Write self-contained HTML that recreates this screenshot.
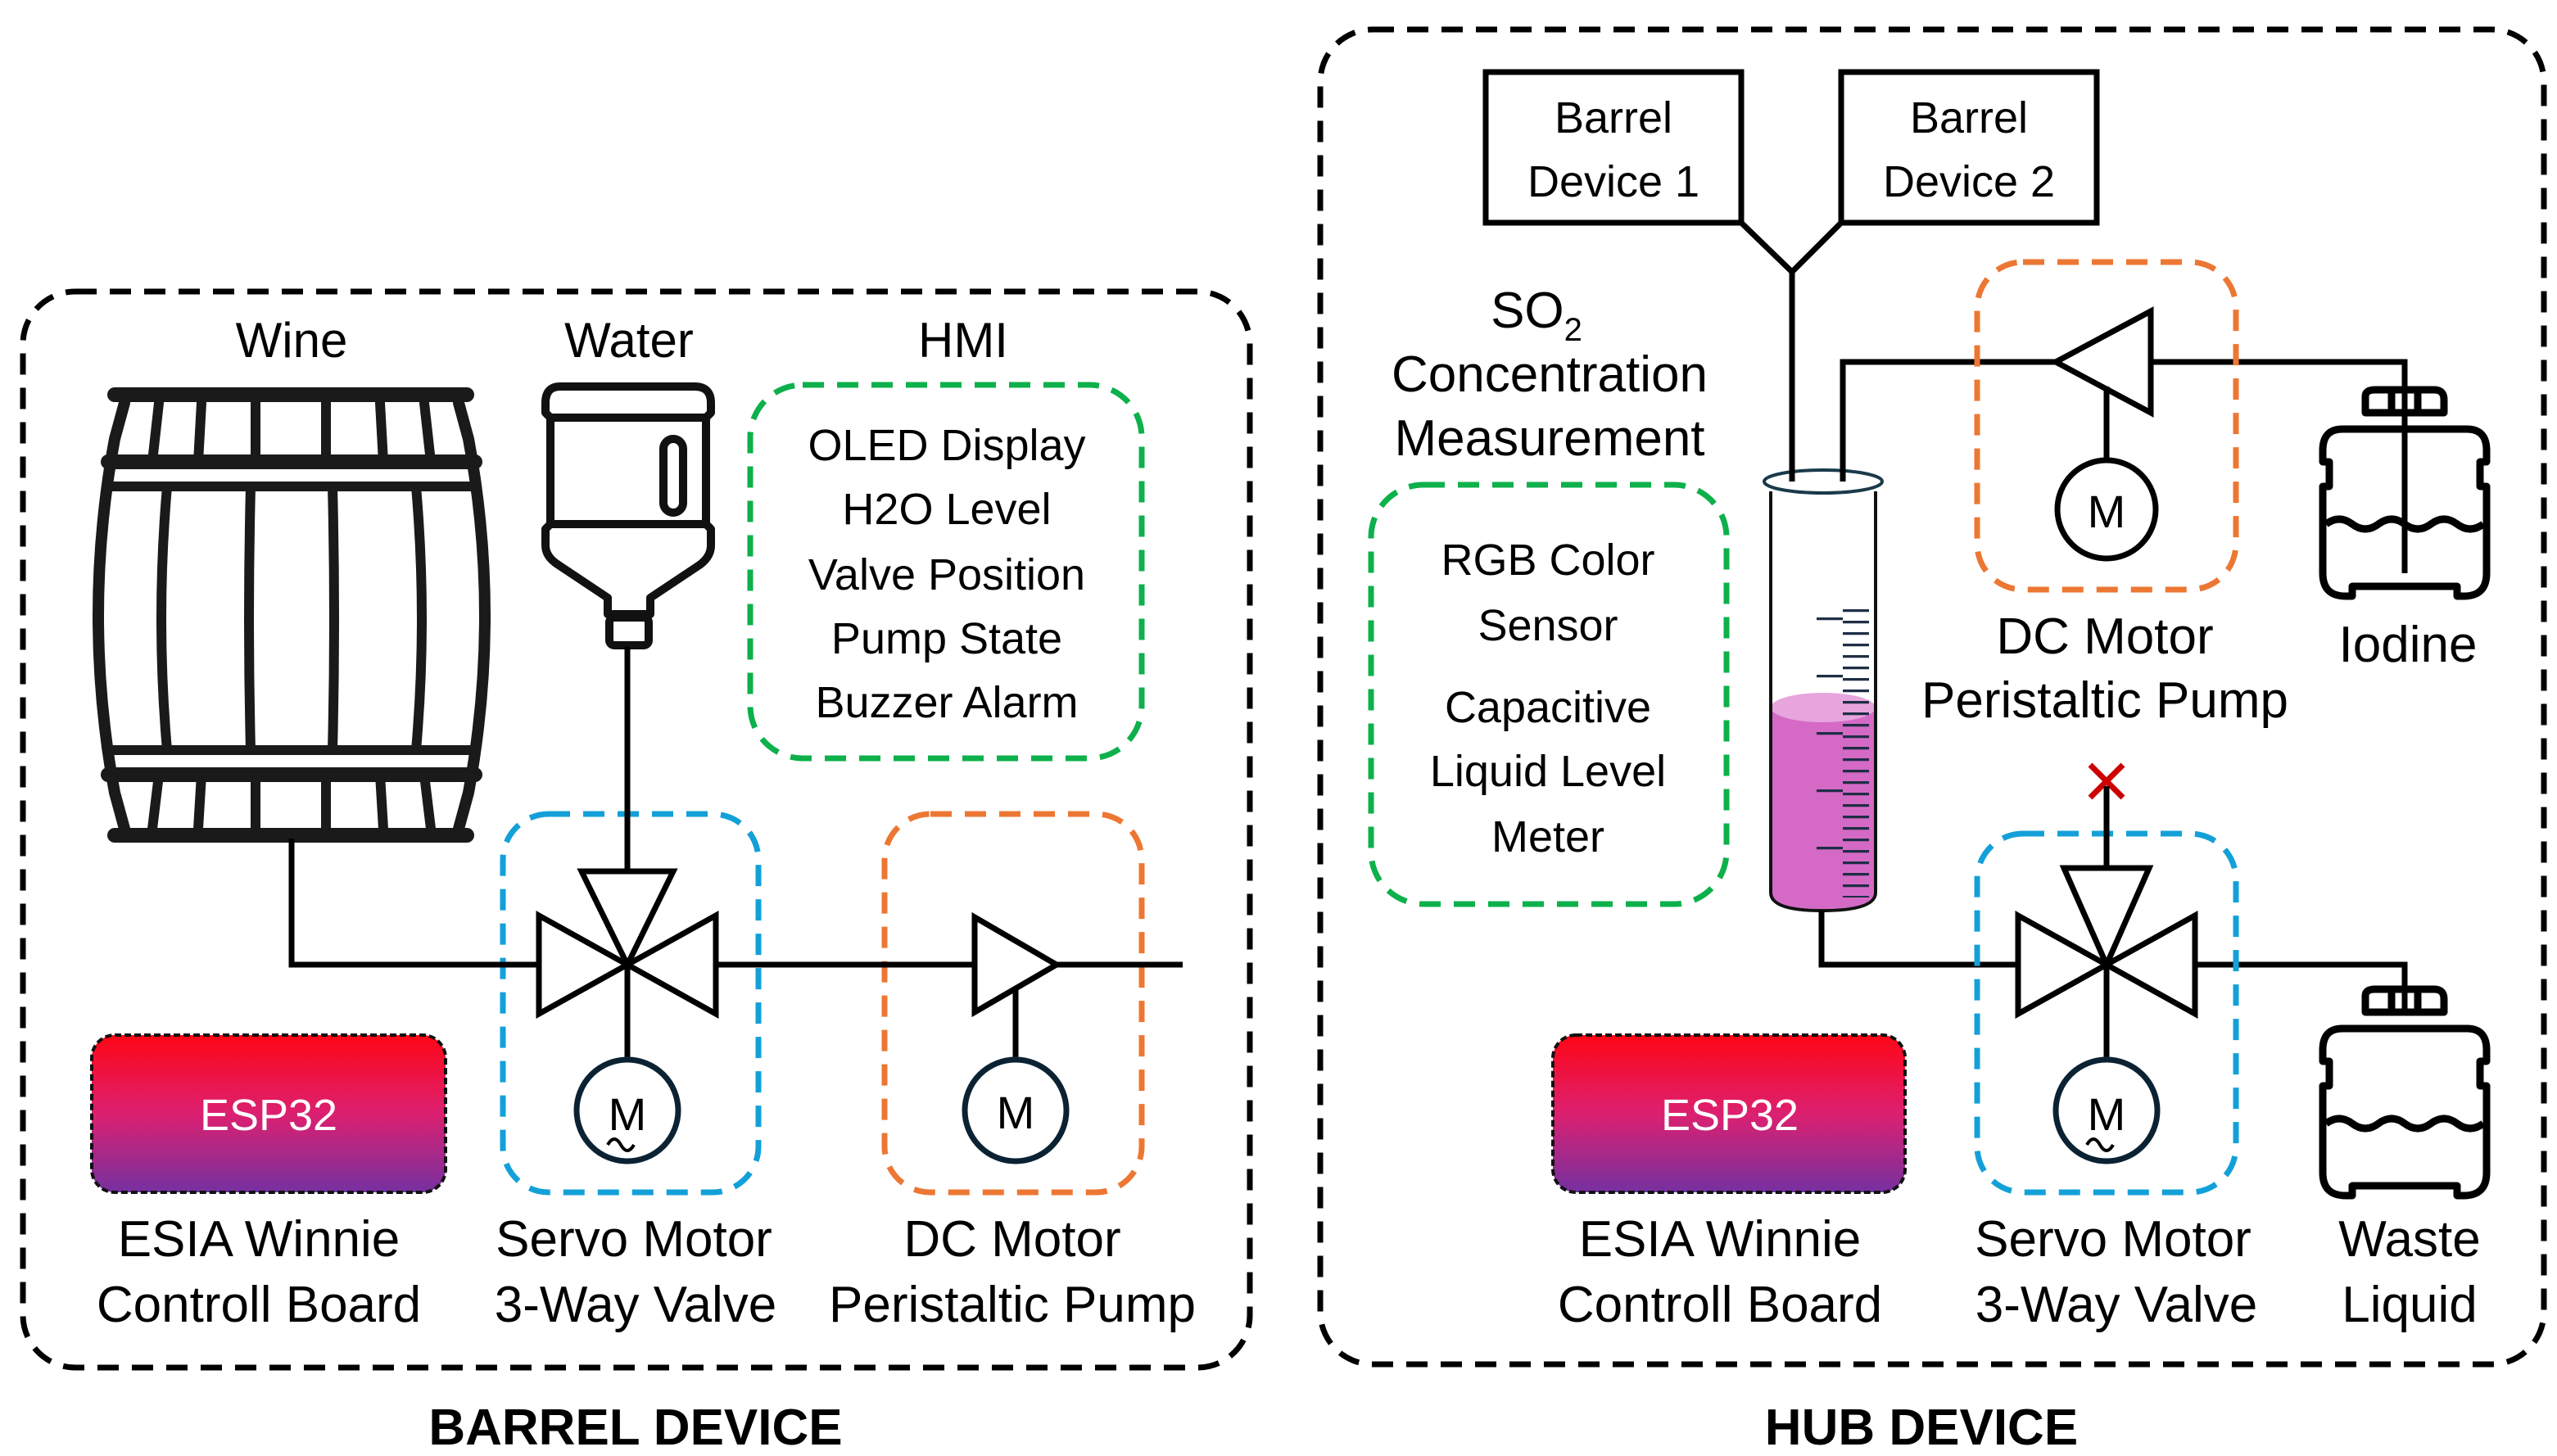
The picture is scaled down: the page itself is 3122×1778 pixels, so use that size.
<!DOCTYPE html>
<html><head><meta charset="utf-8"><style>
html,body{margin:0;padding:0;background:#fff;}
svg{display:block;}
text{font-family:"Liberation Sans",sans-serif;fill:#000;}
</style></head><body>
<svg width="3122" height="1778" viewBox="0 0 1561 889" xmlns="http://www.w3.org/2000/svg">
<defs>
<linearGradient id="g" x1="0" y1="0" x2="0" y2="1">
<stop offset="0" stop-color="#ff0616"/><stop offset="0.5" stop-color="#dc2070"/><stop offset="1" stop-color="#7530a0"/>
</linearGradient>
</defs>
<rect x="14" y="178" width="749" height="657" rx="32" fill="none" stroke="#000" stroke-width="3.5" stroke-dasharray="13 8"/>
<rect x="806" y="18" width="747" height="815" rx="32" fill="none" stroke="#000" stroke-width="3.5" stroke-dasharray="13 8"/>
<text x="388" y="882" font-size="31" font-weight="bold" text-anchor="middle">BARREL DEVICE</text>
<text x="1173" y="882" font-size="31" font-weight="bold" text-anchor="middle">HUB DEVICE</text>

<g font-size="30" text-anchor="middle">
<text x="178" y="218">Wine</text>
<text x="384" y="218">Water</text>
<text x="588" y="218">HMI</text>
</g>
<g stroke="#1a1a1a" fill="none" stroke-linecap="round">
<line x1="70" y1="241" x2="285" y2="241" stroke-width="9"/>
<line x1="70" y1="510" x2="285" y2="510" stroke-width="9"/>
<path d="M76 246 L70 268 Q50 376 70 484 L76 506" stroke-width="7"/>
<path d="M280 246 L286 268 Q306 376 286 484 L280 506" stroke-width="7"/>
<line x1="66" y1="282" x2="290" y2="282" stroke-width="9"/>
<line x1="66" y1="297" x2="290" y2="297" stroke-width="6"/>
<line x1="66" y1="458" x2="290" y2="458" stroke-width="6"/>
<line x1="66" y1="473" x2="290" y2="473" stroke-width="9"/>
<path d="M97 246 L93 282 M97 473 L93 506" stroke-width="6"/>
<path d="M259 246 L263 282 M259 473 L263 506" stroke-width="6"/>
<path d="M123 246 L121 282 M123 473 L121 506 M156 246 L156 282 M156 473 L156 506 M199 246 L199 282 M199 473 L199 506 M232 246 L234 282 M232 473 L234 506" stroke-width="6"/>
<path d="M102 297 Q95 378 102 458" stroke-width="6"/>
<path d="M153 297 Q151 378 153 458" stroke-width="6"/>
<path d="M203 297 Q205 378 203 458" stroke-width="6"/>
<path d="M254 297 Q261 378 254 458" stroke-width="6"/>
</g>
<g stroke="#111" stroke-width="5" fill="none" stroke-linejoin="round">
<path d="M342 236 L424 236 Q434 236 434 246 L434 252 L431 255 L431 320 L434 323 L434 333 Q434 340 427 345 L397 365 L397 375 L371 375 L371 365 L341 345 Q333 340 333 333 L333 323 L336 320 L336 255 L333 252 L333 246 Q333 236 342 236 Z"/>
<line x1="336" y1="255" x2="431" y2="255"/>
<line x1="336" y1="320" x2="431" y2="320"/>
<rect x="372" y="377" width="24" height="17" rx="3"/>
<rect x="405" y="268" width="12" height="45" rx="6"/>
</g>
<rect x="458" y="235" width="239" height="228" rx="32" fill="none" stroke="#0db04b" stroke-width="3.5" stroke-dasharray="13 8"/>
<g font-size="27" text-anchor="middle">
<text x="578" y="281">OLED Display</text>
<text x="578" y="320">H2O Level</text>
<text x="578" y="360">Valve Position</text>
<text x="578" y="399">Pump State</text>
<text x="578" y="438">Buzzer Alarm</text>
</g>
<rect x="307" y="497" width="156" height="231" rx="28" fill="none" stroke="#13a0d8" stroke-width="3.5" stroke-dasharray="13 8"/>
<rect x="540" y="497" width="157" height="231" rx="28" fill="none" stroke="#ec7733" stroke-width="3.5" stroke-dasharray="13 8"/>
<g stroke="#000" stroke-width="3.5" fill="none">
<path d="M178 512 L178 589 L329 589"/>
<line x1="383" y1="395" x2="383" y2="532"/>
<path d="M329 559 L437 619 L437 559 L329 619 Z" fill="#fff"/>
<path d="M355 532 L411 532 L383 589 Z" fill="#fff"/>
<line x1="383" y1="589" x2="383" y2="648"/>
<line x1="437" y1="589" x2="595" y2="589"/>
<path d="M595 560 L645 589 L595 618 Z" fill="#fff"/>
<line x1="645" y1="589" x2="722" y2="589"/>
<line x1="620" y1="604" x2="620" y2="648"/>
</g>
<g stroke="#0b2233" stroke-width="3.5" fill="#fff">
<ellipse cx="383" cy="678" rx="31" ry="31"/>
<ellipse cx="620" cy="678" rx="31" ry="31"/>
</g>
<text x="383" y="690" font-size="28" text-anchor="middle">M</text>
<path d="M371 699 q4 -7 8 0 q4 7 8 0" stroke="#000" stroke-width="2" fill="none"/>
<text x="620" y="689" font-size="28" text-anchor="middle">M</text>
<rect x="56" y="632" width="216" height="96" rx="14" fill="url(#g)" stroke="#111" stroke-width="2" stroke-dasharray="4 2"/>
<text x="164" y="690" font-size="27" text-anchor="middle" style="fill:#fff">ESP32</text>
<g font-size="31" text-anchor="middle">
<text x="158" y="767">ESIA Winnie</text>
<text x="158" y="807">Controll Board</text>
<text x="387" y="767">Servo Motor</text>
<text x="388" y="807">3-Way Valve</text>
<text x="618" y="767">DC Motor</text>
<text x="618" y="807">Peristaltic Pump</text>
</g>

<g stroke="#000" stroke-width="3.5" fill="none">
<rect x="907" y="44" width="156" height="92"/>
<rect x="1124" y="44" width="156" height="92"/>
<path d="M1063 136 L1094 166 L1124 136 M1094 166 L1094 292"/>
<path d="M1125 292 L1125 221 L1255 221"/>
<path d="M1255 221 L1313 190 L1313 252 Z" fill="#fff"/>
<path d="M1313 221 L1468 221 L1468 350"/>
<line x1="1286" y1="236" x2="1286" y2="282"/>
</g>
<g font-size="27" text-anchor="middle">
<text x="985" y="81">Barrel</text>
<text x="985" y="120">Device 1</text>
<text x="1202" y="81">Barrel</text>
<text x="1202" y="120">Device 2</text>
</g>
<g font-size="31" text-anchor="middle">
<text x="938" y="200">SO<tspan font-size="20" dy="8">2</tspan></text>
<text x="946" y="239">Concentration</text>
<text x="946" y="278">Measurement</text>
</g>
<rect x="837" y="296" width="217" height="256" rx="32" fill="none" stroke="#0db04b" stroke-width="3.5" stroke-dasharray="13 8"/>
<g font-size="27" text-anchor="middle">
<text x="945" y="351">RGB Color</text>
<text x="945" y="391">Sensor</text>
<text x="945" y="441">Capacitive</text>
<text x="945" y="480">Liquid Level</text>
<text x="945" y="520">Meter</text>
</g>
<path d="M1081 432 L1081 545 Q1081 555 1112 555 Q1145 555 1145 545 L1145 432 Z" fill="#d46ac6"/>
<ellipse cx="1113" cy="432" rx="32" ry="9" fill="#e6a5dd"/>
<path d="M1081 300 L1081 545 Q1081 556 1112 556 Q1145 556 1145 545 L1145 300" fill="none" stroke="#111" stroke-width="2"/>
<ellipse cx="1113" cy="294" rx="36" ry="7" fill="#fff" stroke="#1a3a4a" stroke-width="2"/>
<line x1="1094" y1="166" x2="1094" y2="294" stroke="#000" stroke-width="3.5"/>
<line x1="1125" y1="221" x2="1125" y2="294" stroke="#000" stroke-width="3.5"/>
<line x1="1133" y1="372" x2="1133" y2="548" stroke="#1e2e45" stroke-width="16" stroke-dasharray="1.6 5.4"/>
<line x1="1117" y1="377" x2="1117" y2="548" stroke="#1e2e45" stroke-width="16" stroke-dasharray="1.6 33.4"/>
<path d="M1112 556 L1112 589 L1232 589" stroke="#000" stroke-width="3.5" fill="none"/>
<rect x="1207" y="160" width="158" height="200" rx="28" fill="none" stroke="#ec7733" stroke-width="3.5" stroke-dasharray="13 8"/>
<circle cx="1286" cy="311" r="30" fill="#fff" stroke="#000" stroke-width="3.5"/>
<text x="1286" y="322" font-size="28" text-anchor="middle">M</text>
<g font-size="31" text-anchor="middle">
<text x="1285" y="399">DC Motor</text>
<text x="1285" y="438">Peristaltic Pump</text>
<text x="1470" y="404">Iodine</text>
</g>
<g id="bt" stroke="#000" stroke-width="4.5" fill="none" stroke-linejoin="round">
<path d="M1444 252 L1444 242 Q1444 238 1450 238 L1486 238 Q1492 238 1492 244 L1492 252 Z"/>
<line x1="1460" y1="240" x2="1460" y2="252"/><line x1="1476" y1="240" x2="1476" y2="252"/>
<path d="M1430 262 Q1418 262 1418 275 L1418 282 L1422 282 L1422 297 L1418 297 L1418 350 Q1418 364 1432 364 L1436 364 L1436 358 L1500 358 L1500 364 L1504 364 Q1518 364 1518 350 L1518 297 L1514 297 L1514 282 L1518 282 L1518 275 Q1518 262 1506 262 Z"/>
<path d="M1420 320 q8 -6 16 0 q8 6 16 0 q8 -6 16 0 q8 6 16 0 q8 -6 16 0 q8 6 16 0"/>
</g>
<line x1="1468" y1="221" x2="1468" y2="350" stroke="#000" stroke-width="3.5"/>
<use href="#bt" transform="translate(0,366)"/>
<path d="M1340 589 L1468 589 L1468 620" stroke="#000" stroke-width="3.5" fill="none"/>
<path d="M1276 467 L1296 487 M1296 467 L1276 487" stroke="#cc0000" stroke-width="3.5"/>
<rect x="1207" y="509" width="158" height="219" rx="28" fill="none" stroke="#13a0d8" stroke-width="3.5" stroke-dasharray="13 8"/>
<g stroke="#000" stroke-width="3.5" fill="none">
<line x1="1286" y1="480" x2="1286" y2="530"/>
<path d="M1232 559 L1340 619 L1340 559 L1232 619 Z" fill="#fff"/>
<path d="M1260 530 L1312 530 L1286 589 Z" fill="#fff"/>
<line x1="1286" y1="589" x2="1286" y2="648"/>
</g>
<ellipse cx="1286" cy="678" rx="31" ry="31" fill="#fff" stroke="#0b2233" stroke-width="3.5"/>
<text x="1286" y="690" font-size="28" text-anchor="middle">M</text>
<path d="M1274 699 q4 -7 8 0 q4 7 8 0" stroke="#000" stroke-width="2" fill="none"/>
<rect x="948" y="632" width="215" height="96" rx="14" fill="url(#g)" stroke="#111" stroke-width="2" stroke-dasharray="4 2"/>
<text x="1056" y="690" font-size="27" text-anchor="middle" style="fill:#fff">ESP32</text>
<g font-size="31" text-anchor="middle">
<text x="1050" y="767">ESIA Winnie</text>
<text x="1050" y="807">Controll Board</text>
<text x="1290" y="767">Servo Motor</text>
<text x="1292" y="807">3-Way Valve</text>
<text x="1471" y="767">Waste</text>
<text x="1471" y="807">Liquid</text>
</g>
</svg>
</body></html>
